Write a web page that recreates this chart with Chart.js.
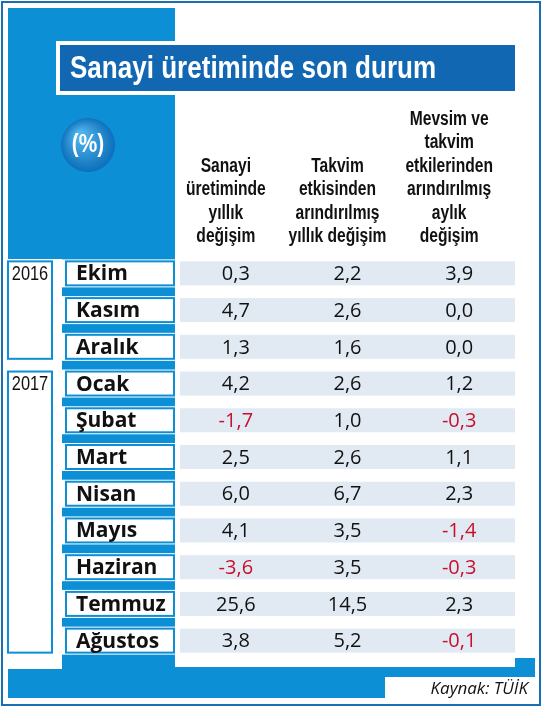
<!DOCTYPE html>
<html><head><meta charset="utf-8">
<script src="https://cdn.jsdelivr.net/npm/chart.js@4/dist/chart.umd.min.js"></script>
<style>html,body{margin:0;padding:0;background:#fff}#c{display:block}</style>
</head><body>
<div style="width:542px;height:707px"><canvas id="c"></canvas></div>
<script>
const months = ["Ekim", "Kasım", "Aralık", "Ocak", "Şubat", "Mart", "Nisan", "Mayıs", "Haziran", "Temmuz", "Ağustos"];
const years = [["2016", 0, 2], ["2017", 3, 10]];
const yearly = [0.3, 4.7, 1.3, 4.2, -1.7, 2.5, 6.0, 4.1, -3.6, 25.6, 3.8];
const calendarAdj = [2.2, 2.6, 1.6, 2.6, 1.0, 2.6, 6.7, 3.5, 3.5, 14.5, 5.2];
const seasonalMonthly = [3.9, 0.0, 0.0, 1.2, -0.3, 1.1, 2.3, -1.4, -0.3, 2.3, -0.1];
const headers = [
  ["Sanayi", "üretiminde", "yıllık", "değişim"],
  ["Takvim", "etkisinden", "arındırılmış", "yıllık değişim"],
  ["Mevsim ve", "takvim", "etkilerinden", "arındırılmış", "aylık", "değişim"]
];
const title = "Sanayi üretiminde son durum";
const source = "Kaynak: TÜİK";

const BLUE = "#0d8fd6", DARK = "#1267b3", STRIPE = "#e1eaf3", RED = "#c8102e";
const cols = [yearly, calendarAdj, seasonalMonthly];
const fmt = v => v.toFixed(1).replace(".", ",");

// condensed text: squeeze horizontally
function narrow(c, text, x, y, sx) {
  c.save(); c.translate(x, y); c.scale(sx, 1); c.fillText(text, 0, 0); c.restore();
}

const tablePlugin = {
  id: "table",
  beforeDraw(chart) {
    const c = chart.ctx, x = chart.scales.x, y = chart.scales.y;
    const half = (y.getPixelForValue(1) - y.getPixelForValue(0)) / 2;
    c.save();
    c.fillStyle = "#fff"; c.fillRect(0, 0, 542, 707);
    c.strokeStyle = "#1a6fb0"; c.lineWidth = 2; c.strokeRect(2, 2, 538, 703);
    // blue frame
    c.fillStyle = BLUE;
    c.fillRect(8, 8, 167, 652);
    c.fillRect(8, 658, 527, 40);
    c.fillStyle = "#fff";
    c.fillRect(175, 8, 360, 12);
    c.fillRect(175, 658, 340, 9);
    // white gap left of labels
    c.fillRect(8, y.getPixelForValue(0) - half + 4, 54, 410);
    // title
    c.fillRect(56, 41, 460, 54);
    c.fillStyle = DARK; c.fillRect(60, 45, 455, 46);
    c.fillStyle = "#fff"; c.font = "bold 31px 'Liberation Sans', sans-serif";
    c.textBaseline = "middle"; c.textAlign = "left";
    narrow(c, title, 70, 69, 0.84);
    // percent circle
    const g = c.createRadialGradient(80, 135, 4, 88, 145, 28);
    g.addColorStop(0, "#4fb3ec"); g.addColorStop(1, "#0a6db8");
    c.fillStyle = g; c.beginPath(); c.arc(88, 145, 27, 0, Math.PI * 2); c.fill();
    c.fillStyle = "#fff"; c.font = "bold 26px 'Liberation Sans', sans-serif"; c.textAlign = "center";
    narrow(c, "(%)", 88, 145, 0.8);
    // headers
    c.fillStyle = "#111"; c.font = "bold 20px 'Liberation Sans', sans-serif";
    c.textBaseline = "alphabetic";
    headers.forEach((h, i) => {
      const cx = x.getPixelForValue(i) - 10;
      h.forEach((t, k) => narrow(c, t, cx, 242 - (h.length - 1 - k) * 23.5, 0.78));
    });
    // rows
    months.forEach((m, i) => {
      const cy = y.getPixelForValue(i);
      c.fillStyle = STRIPE; c.fillRect(180, cy - 12, 335, 24);
      c.fillStyle = "#fff"; c.fillRect(62, cy - 14, 113, 28);
      c.strokeStyle = BLUE; c.lineWidth = 2; c.strokeRect(66, cy - 12, 108, 24);
      c.fillStyle = "#111"; c.font = "bold 21px 'Open Sans', sans-serif";
      c.textAlign = "left"; c.textBaseline = "middle";
      c.fillText(m, 76, cy + 1);
      c.font = "20px 'Open Sans', sans-serif"; c.textAlign = "center";
      cols.forEach((arr, j) => {
        c.fillStyle = arr[i] < 0 ? RED : "#111";
        c.fillText(fmt(arr[i]), x.getPixelForValue(j), cy + 1);
      });
    });
    // year boxes
    years.forEach(([yr, a, b]) => {
      const top = y.getPixelForValue(a) - 12, bot = y.getPixelForValue(b) + 12;
      c.fillStyle = "#fff"; c.fillRect(7, top, 46, bot - top);
      c.strokeStyle = BLUE; c.lineWidth = 2; c.strokeRect(8, top, 44, bot - top);
      c.fillStyle = "#111"; c.font = "21px 'Liberation Sans', sans-serif";
      c.textAlign = "center"; narrow(c, yr, 30, top + 13, 0.78);
    });
    // source
    c.fillStyle = "#fff"; c.fillRect(385, 677, 150, 22);
    c.fillStyle = "#111"; c.font = "italic 17px 'Open Sans', sans-serif"; c.textAlign = "right";
    c.fillText(source, 528, 689);
    c.restore();
  }
};

new Chart(document.getElementById("c"), {
  type: "scatter",
  data: {
    datasets: cols.map((arr, j) => ({
      data: arr.map((v, i) => ({ x: j, y: months[i] })),
      pointRadius: 0
    }))
  },
  options: {
    responsive: true, maintainAspectRatio: false, animation: false,
    layout: { padding: { left: 180, right: 27, top: 255, bottom: 48 } },
    plugins: { legend: { display: false }, tooltip: { enabled: false } },
    scales: {
      x: { type: "linear", min: -0.5, max: 2.5, display: false },
      y: { type: "category", labels: months, offset: true, display: false }
    }
  },
  plugins: [tablePlugin]
});
</script>
</body></html>
